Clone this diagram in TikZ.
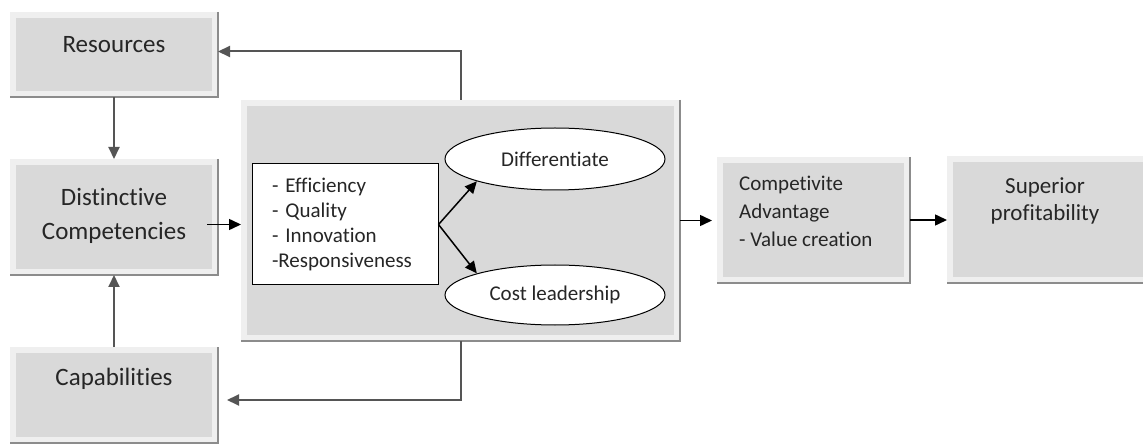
\documentclass[tikz,border=0pt]{standalone}
\usepackage{fontspec}
\setmainfont{Carlito}[Ligatures=NoCommon]
\usetikzlibrary{arrows.meta,shapes.geometric}
\definecolor{boxgray}{HTML}{D9D9D9}
\definecolor{boxframe}{HTML}{EFEFEF}
\definecolor{boxedge}{HTML}{8C8C8C}
\definecolor{linkgray}{HTML}{555555}
\definecolor{textgray}{HTML}{262626}

\begin{document}
\begin{tikzpicture}[x=1pt, y=-1pt,
    every node/.style={text=textgray},
    panel/.style={draw=boxframe, fill=boxgray, line width=6pt, inner sep=0pt},
    edge/.style={draw=boxedge, line width=2.5pt},
    big/.style={font=\fontsize{25}{34}\selectfont, align=center, anchor=base, inner sep=0pt},
    small/.style={font=\fontsize{21}{25}\selectfont, inner sep=0pt},
    arrow/.style={line width=1.5pt, -{Triangle[length=12pt,width=11pt]}},
    loop/.style={arrow, draw=linkgray, line width=2pt},
    oval/.style={ellipse, draw, fill=white, line width=1pt, small}
]
\useasboundingbox (0,0) rectangle (1143,446);

\node[panel, minimum width=202pt, minimum height=79pt] (res) at (114,54.5) {};
\node[panel, minimum width=202pt, minimum height=110pt] (dist) at (114,217) {};
\node[panel, minimum width=202pt, minimum height=90pt] (cap) at (114,395) {};
\node[panel, minimum width=433pt, minimum height=235pt] (strat) at (460.5,220.5) {};
\node[panel, minimum width=187pt, minimum height=120pt] (comp) at (813.5,220) {};
\node[panel, minimum width=197pt, minimum height=121pt] (prof) at (1048.5,219.5) {};

\foreach \n in {res,dist,cap,strat,comp,prof}
    \draw[edge] (\n.north east) -- (\n.south east) -- (\n.south west);

\node[big] (res-text) at (114,53) {Resources};
\node[big] (dist-text) at (114,240) {Distinctive\\Competencies};
\node[big] (cap-text) at (114,385) {Capabilities};
\node[small, font=\fontsize{21}{28}\selectfont, align=left, anchor=base west] (comp-text) at (739,247)
    {Competivite\\Advantage\\- Value creation};
\node[big, font=\fontsize{23}{27}\selectfont] (prof-text) at (1045,221) {Superior\\profitability};

\node[draw, fill=white, line width=1pt, small, align=left, text width=146pt, inner xsep=20pt,
    minimum height=121pt] (list) at (345,224.5)
    {- Efficiency\\- Quality\\- Innovation\\-Responsiveness};
\node[oval, minimum width=220pt, minimum height=62pt] (diff) at (555,159) {Differentiate};
\node[oval, minimum width=220pt, minimum height=60pt] (cost) at (555,295) {Cost leadership};

\draw[arrow] (list.east) -- (diff.south west);
\draw[arrow] (list.east) -- (cost.north west);
\draw[arrow, shorten <=-11pt] (dist.east |- list.west) -- (strat.west |- list.west);
\draw[arrow, shorten >=5pt] (strat.east) -- (comp.west |- strat.east);
\draw[arrow] (comp.east) -- (prof.west |- comp.east);

\draw[loop] (res.south) -- (dist.north);
\draw[loop] (cap.north) -- (dist.south);
\draw[loop] (strat.north) |- ([yshift=3pt]res.east);
\draw[loop, shorten >=9pt] (strat.south) |- ([yshift=-5pt]cap.east);

\end{tikzpicture}
\end{document}
